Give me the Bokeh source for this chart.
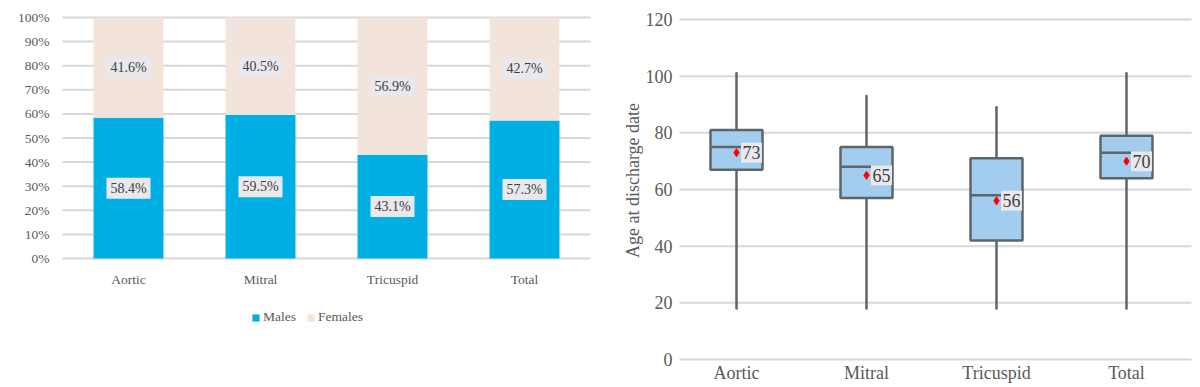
import math
from bokeh.plotting import figure
from bokeh.models import ColumnDataSource, Legend, LegendItem, Range1d
from bokeh.embed import file_html
from bokeh.resources import INLINE
from bokeh.core.properties import value

# ---------------- data ----------------
categories = ["Aortic", "Mitral", "Tricuspid", "Total"]
males_pct = [58.4, 59.5, 43.1, 57.3]
females_pct = [41.6, 40.5, 56.9, 42.7]

box_q1 = [67, 57, 42, 64]
box_median = [75, 68, 58, 73]
box_q3 = [81, 75, 71, 79]
whisker_low = [18, 18, 18, 18]
whisker_high = [101, 93, 89, 101]
means = [73, 65, 56, 70]

age_ticks = [0, 20, 40, 60, 80, 100, 120]
pct_ticks = [0, 10, 20, 30, 40, 50, 60, 70, 80, 90, 100]

# ---------------- styles / geometry ----------------
FONT = value("Liberation Serif")
MALE_C = "#00B0E5"
FEMALE_C = "#F2E3DB"
GRID_C = "#D6D8DF"
LABEL_BG = "#E8E8ED"
TEXT_C = "#404040"
AXIS_TXT = "#595959"
BOX_LINE = "#5E6569"

W, H = 1200, 387
# left panel: category spacing and pct scale (pixels)
L_STEP, L_FIRST = 132, 128          # px per category, px of first category centre
L_PX, L_TOP = 2.41, 17              # px per percent, px of the 100% line from top
# right panel
R_STEP, R_FIRST = 130, 736
R_PX, R_TOP = 340 / 120, 19
R_ZERO = R_TOP + 120 * R_PX         # px of the 0 line from top

pos = [i + 1 for i in range(len(categories))]

p = figure(width=W, height=H, output_backend="svg", toolbar_location=None,
           x_axis_location=None, y_axis_location=None, min_border=0,
           x_range=Range1d(1 - L_FIRST / L_STEP, 1 + (W - L_FIRST) / L_STEP),
           y_range=Range1d(-(H - L_TOP - 100 * L_PX) / L_PX, 100 + L_TOP / L_PX))
p.extra_x_ranges = {"box": Range1d(1 - R_FIRST / R_STEP, 1 + (W - R_FIRST) / R_STEP)}
p.extra_y_ranges = {"age": Range1d(-(H - R_ZERO) / R_PX, 120 + R_TOP / R_PX)}
p.xgrid.visible = False
p.ygrid.visible = False
p.outline_line_color = None

# ---------------- left: stacked 100% bar ----------------
lg_x0, lg_x1 = 0.5, len(categories) + 0.5
p.segment(x0=lg_x0, x1=lg_x1, y0=pct_ticks, y1=pct_ticks, line_color=GRID_C, line_width=2)
p.text(x=lg_x0, y=pct_ticks, text=[f"{t}%" for t in pct_ticks], x_offset=-13,
       text_align="right", text_baseline="middle", text_font=FONT,
       text_font_size="13.5px", text_color=AXIS_TXT)

src1 = ColumnDataSource(dict(
    x=pos, males=males_pct, females=females_pct,
    my=[m / 2 for m in males_pct],
    fy=[m + f / 2 for m, f in zip(males_pct, females_pct)],
    mlab=[f"{m:.1f}%" for m in males_pct],
    flab=[f"{f:.1f}%" for f in females_pct],
))
rs = p.vbar_stack(["males", "females"], x="x", width=0.53, source=src1,
                  color=[MALE_C, FEMALE_C], line_color=None)
for ycol, tcol in (("my", "mlab"), ("fy", "flab")):
    p.rect(x="x", y=ycol, width=44, height=21, width_units="screen",
           height_units="screen", source=src1, fill_color=LABEL_BG, line_color=None)
    p.text(x="x", y=ycol, text=tcol, source=src1, text_align="center",
           text_baseline="middle", text_font=FONT, text_font_size="14px",
           text_color=TEXT_C)

p.text(x=pos, y=[-21 / L_PX] * len(pos), text=categories, text_align="center",
       text_baseline="middle", text_font=FONT, text_font_size="13.5px",
       text_color=AXIS_TXT)

legend = Legend(items=[LegendItem(label="Males", renderers=[rs[0]]),
                       LegendItem(label="Females", renderers=[rs[1]])],
                orientation="horizontal", location=(251, 62),
                glyph_width=9, glyph_height=9, label_text_font="Liberation Serif",
                label_text_font_size="13.5px", label_text_color=AXIS_TXT,
                border_line_color=None, background_fill_alpha=0,
                spacing=10, label_standoff=3, margin=0, padding=0)
p.add_layout(legend, "center")

# ---------------- right: box plot ----------------
rg_x0 = 1 - (R_FIRST - 679) / R_STEP
rg_x1 = len(categories) + 0.5
half = 0.2
lab_shift = 15 / R_STEP
R = dict(x_range_name="box", y_range_name="age")

p.segment(x0=rg_x0, x1=rg_x1, y0=age_ticks, y1=age_ticks, line_color=GRID_C,
          line_width=2, **R)
p.text(x=rg_x0, y=age_ticks, text=[str(t) for t in age_ticks], x_offset=-7,
       text_align="right", text_baseline="middle", text_font=FONT,
       text_font_size="18px", text_color=AXIS_TXT, **R)
p.text(x=pos, y=[-13 / R_PX] * len(pos), text=categories, text_align="center",
       text_baseline="middle", text_font=FONT, text_font_size="18px",
       text_color=AXIS_TXT, **R)
p.text(x=[1 - (R_FIRST - 632) / R_STEP], y=[(R_ZERO - 180) / R_PX],
       text=["Age at discharge date"], angle=math.pi / 2, text_align="center",
       text_baseline="middle", text_font=FONT, text_font_size="18px",
       text_color=AXIS_TXT, **R)

src2 = ColumnDataSource(dict(
    x=pos, q1=box_q1, med=box_median, q3=box_q3, lo=whisker_low, hi=whisker_high,
    mean=means, x0=[x - half for x in pos], x1=[x + half for x in pos],
    xl=[x + lab_shift for x in pos],
    mlab=[str(m) for m in means],
))
p.segment(x0="x", y0="lo", x1="x", y1="hi", source=src2, line_color=BOX_LINE,
          line_width=2.5, line_cap="round", **R)
p.vbar(x="x", width=2 * half, top="q3", bottom="q1", source=src2,
       fill_color="#A3CDEE", line_color=BOX_LINE, line_width=2.5, **R)
p.segment(x0="x0", y0="med", x1="x1", y1="med", source=src2, line_color=BOX_LINE,
          line_width=2.5, **R)
p.rect(x="xl", y="mean", width=21, height=20, width_units="screen",
       height_units="screen", source=src2, fill_color=LABEL_BG, line_color=None, **R)
p.scatter(x="x", y="mean", source=src2, marker="diamond", size=8,
          fill_color="#FF0000", line_color="#FF0000", **R)
p.text(x="xl", y="mean", text="mlab", source=src2, text_align="center",
       text_baseline="middle", text_font=FONT, text_font_size="18px",
       text_color=TEXT_C, **R)

open("out.html", "w").write(file_html(p, INLINE))
